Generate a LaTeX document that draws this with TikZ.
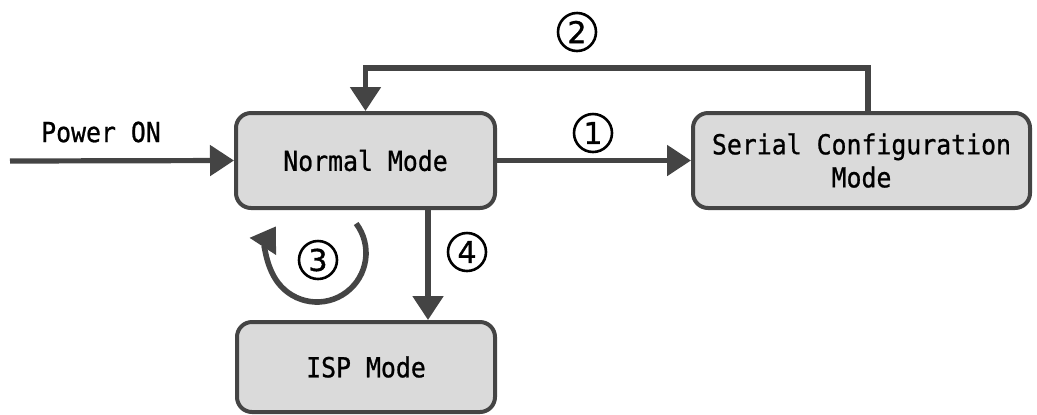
\documentclass[tikz,border=0pt]{standalone}
\usepackage{fontspec}
\setmonofont[FakeStretch=0.9, FakeBold=0.8]{DejaVu Sans Mono}
\newfontfamily\circfont[FakeBold=1.2]{DejaVu Sans}
\usetikzlibrary{arrows.meta,calc}
\definecolor{edgegray}{HTML}{444444}
\definecolor{boxgray}{HTML}{DADADA}
\newcommand{\modefont}{\ttfamily\fontsize{13.8}{16.5}\selectfont}
\newcommand{\stepfont}{\circfont\fontsize{15}{15}\selectfont}

\begin{document}
\begin{tikzpicture}[x=0.5pt, y=-0.5pt,
  modebox/.style={rectangle, rounded corners=7.5pt, draw=edgegray, fill=boxgray,
    line width=2pt, align=center, font=\modefont, inner sep=0pt},
  flow/.style={draw=edgegray, line width=2.6pt,
    -{Triangle[length=12pt, width=15pt]}},
  txt/.style={font=\modefont, inner sep=0pt},
  numlab/.style={circle, draw=black, line width=1.3pt, minimum size=19pt,
    inner sep=0pt, font=\stepfont}]
\useasboundingbox (0,0) rectangle (1037,414);
% ---------------- modes ----------------
\node[modebox, minimum width=129.5pt, minimum height=47.5pt] (normal) at (365.5,160.5) {Normal Mode};
\node[modebox, minimum width=168.5pt, minimum height=47.5pt] (serial) at (861.5,160.5)
  {Serial Configuration\\Mode};
\node[modebox, minimum width=129pt, minimum height=45pt] (isp) at (366,367) {ISP Mode};
% ---------------- transitions ----------------
\coordinate (pwr) at (10,161);
\node[txt] (pwrlab) at (101,132) {Power ON};
\draw[flow] (pwr) -- (normal.west);
% (1) normal -> serial
\draw[flow] (normal.east) -- (serial.west);
\node[numlab] (n1) at (593,133) {1};
% (2) serial -> normal, over the top
\coordinate (up) at (868,68);
\draw[flow] (serial.north -| up) -- (up) -| (normal.north);
\node[numlab] (n2) at (577,32) {2};
% (3) stays in normal mode
\coordinate (loop) at (317,253);
\draw[flow, line width=2.8pt] (loop) ++(37:24.5pt) arc[start angle=37, end angle=-213, radius=24.5pt];
\node[numlab] (n3) at (318,260) {3};
% (4) normal -> isp
\coordinate (down) at (428,0);
\draw[flow] (normal.south -| down) -- (isp.north -| down);
\node[numlab] (n4) at (467,252) {4};
\end{tikzpicture}
\end{document}
